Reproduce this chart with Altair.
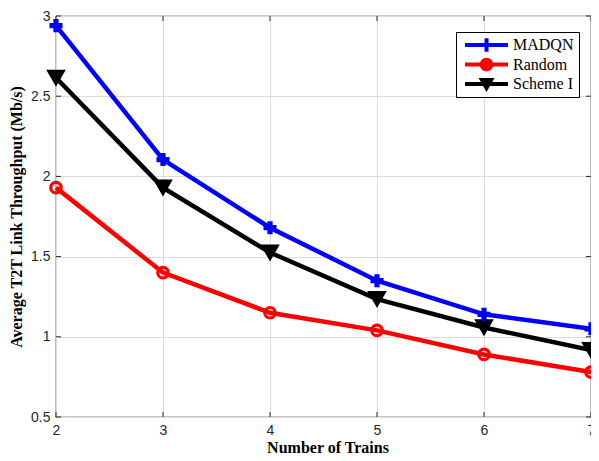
import altair as alt
import pandas as pd

trains = [2, 3, 4, 5, 6, 7]
madqn = [2.94, 2.105, 1.68, 1.35, 1.14, 1.05]
random_vals = [1.93, 1.40, 1.15, 1.04, 0.89, 0.78]
scheme1 = [2.615, 1.93, 1.525, 1.235, 1.058, 0.917]
series_names = ["MADQN", "Random", "Scheme I"]
series_colors = ["#0000ff", "#ff0000", "#000000"]
x_ticks = [2, 3, 4, 5, 6, 7]
y_ticks = [0.5, 1, 1.5, 2, 2.5, 3]

# legend symbols: line + marker (custom paths)
legend_paths = [
    "M-0.5,-0.25H4.875V0.25H-0.5Z M1.94,-0.85H2.44V0.85H1.94Z",
    "M-0.5,-0.25H4.875V0.25H-0.5Z M1.34,0A0.85,0.85 0 1,1 3.04,0A0.85,0.85 0 1,1 1.34,0Z",
    "M-0.5,-0.25H4.875V0.25H-0.5Z M1.19,-0.75H3.19L2.19,1Z",
]

rows = []
for name, vals in zip(series_names, [madqn, random_vals, scheme1]):
    for t, v in zip(trains, vals):
        rows.append({"x": t, "y": v, "series": name})
df = pd.DataFrame(rows)
xt = pd.DataFrame({"x": x_ticks})
yt = pd.DataFrame({"y": y_ticks})

W, H = 535, 401
AXC = "#262626"

xs = alt.Scale(domain=[2, 7], nice=False, zero=False)
ys = alt.Scale(domain=[0.5, 3], nice=False, zero=False)
xaxis = alt.Axis(values=x_ticks, title="Number of Trains", grid=True, gridColor="#dcdcdc",
                 domain=False, ticks=False, labelFlush=False,
                 labelFont="Liberation Sans", labelFontSize=14,
                 labelColor=AXC, labelPadding=6, titleFont="Liberation Serif", titleFontSize=16,
                 titleFontWeight="bold", titleColor="#000000", titleBaseline="alphabetic",
                 titleY=35, titleX=W / 2 + 4)
yaxis = alt.Axis(values=y_ticks, title="Average T2T Link Throughput (Mb/s)", grid=True,
                 gridColor="#dcdcdc", domain=False, ticks=False, format="~g", labelFlush=False,
                 labelFont="Liberation Sans", labelFontSize=14, labelColor=AXC, labelPadding=6,
                 titleFont="Liberation Serif", titleFontSize=16, titleFontWeight="bold",
                 titleColor="#000000", titleBaseline="alphabetic", titleAngle=270,
                 titleX=-35, titleY=H / 2)
X = alt.X("x:Q", scale=xs, axis=xaxis)
Y = alt.Y("y:Q", scale=ys, axis=yaxis)

cscale = alt.Scale(domain=series_names, range=series_colors)


def series_layers(name, color, point_kwargs):
    base = alt.Chart(df).transform_filter(alt.datum.series == name)
    line = base.mark_line(strokeWidth=4.5, color=color).encode(x=X, y=Y)
    pts = base.mark_point(color=color, opacity=1, **point_kwargs).encode(x=X, y=Y)
    return line, pts


l1, p1 = series_layers("MADQN", "#0000ff", dict(shape="cross", filled=True, size=170))
l2, p2 = series_layers("Random", "#ff0000", dict(shape="circle", filled=False, size=110, strokeWidth=3.2))
l3, p3 = series_layers("Scheme I", "#000000", dict(shape="triangle-down", filled=True, size=290,
                                                  stroke="#000000", strokeWidth=1.5))

leg = dict(title=None, orient="none", legendX=400, legendY=16, symbolSize=256,
           labelOffset=36, labelFont="Liberation Serif", labelFontSize=16, labelColor="#000000",
           strokeColor="#000000", fillColor="#ffffff", padding=5, rowPadding=3.5,
           symbolStrokeWidth=0, symbolOpacity=1)

legend_layer = alt.Chart(df).transform_filter(alt.datum.x > 100).mark_point(
    filled=True, opacity=1).encode(
    x=X, y=Y,
    color=alt.Color("series:N", scale=cscale, legend=alt.Legend(**leg)),
    shape=alt.Shape("series:N", scale=alt.Scale(domain=series_names, range=legend_paths),
                    legend=alt.Legend(**leg)),
)

tick_style = dict(color=AXC, strokeWidth=1)
t_bottom = alt.Chart(xt).mark_rule(**tick_style).encode(x=X, y=alt.value(H), y2=alt.value(H - 5))
t_top = alt.Chart(xt).mark_rule(**tick_style).encode(x=X, y=alt.value(0), y2=alt.value(5))
t_left = alt.Chart(yt).mark_rule(**tick_style).encode(y=Y, x=alt.value(0), x2=alt.value(5))
t_right = alt.Chart(yt).mark_rule(**tick_style).encode(y=Y, x=alt.value(W), x2=alt.value(W - 5))

chart = alt.layer(
    t_bottom, t_top, t_left, t_right, l2, l3, l1, p2, p3, p1, legend_layer
).properties(
    width=W, height=H,
    autosize=alt.AutoSizeParams(type="none"),
    padding={"left": 48, "top": 8, "right": 0, "bottom": 36},
    background="#ffffff",
).configure_view(stroke=AXC, strokeWidth=1.2)

chart.save("out.html", embed_options={"renderer": "svg", "actions": False})
